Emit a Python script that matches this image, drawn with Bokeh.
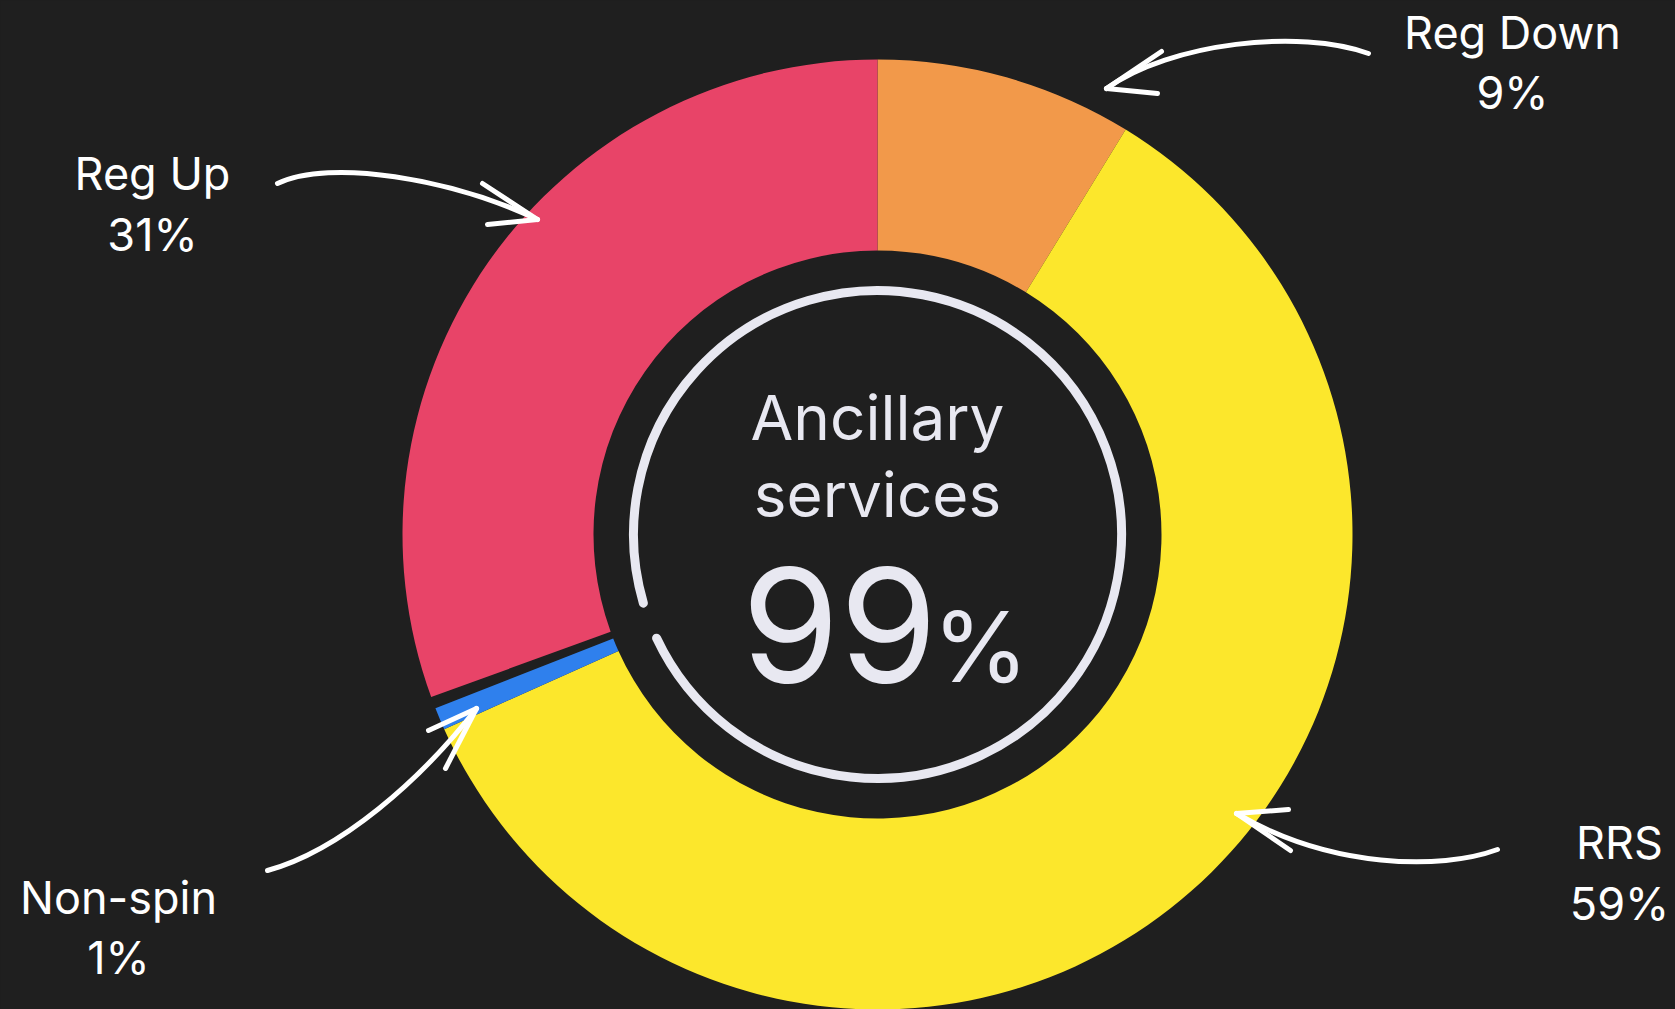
import math
from bokeh.plotting import figure
from bokeh.models import Range1d, ColumnDataSource, GlobalInlineStyleSheet
from bokeh.core.properties import value
from bokeh.embed import file_html
from bokeh.resources import INLINE

# ---------------- data ----------------
categories = ["Reg Down", "RRS", "Non-spin", "Reg Up"]
shares = [8.75, 59.53, 0.76, 30.56]          # share of the ring, %, clockwise from 12 o'clock
pct_labels = ["9%", "59%", "1%", "31%"]
colors = ["#F2994A", "#FCE72C", "#2F80ED", "#E84468"]
total_label = "99"
title_lines = ["Ancillary", "services"]

# ---------------- layout constants ----------------
W, H = 1675, 1009
BG = "#1F1F1F"
RING = "#E8E8F1"
FONT = "Inter"
K_BASE = 0.365   # baseline correction (fraction of font size)


def sx(x):  # screen px -> data x
    return x


def sy(y):  # screen px -> data y (y up)
    return H - y


CX, CY = sx(877), sy(534)
R_OUT, R_IN = 475, 284
R_RING, RING_W = 244, 9

p = figure(width=W, height=H, output_backend="svg", toolbar_location=None,
           x_range=Range1d(0, W), y_range=Range1d(0, H),
           x_axis_location=None, y_axis_location=None,
           min_border=0, outline_line_color=None,
           background_fill_color=BG, border_fill_color=BG)
p.grid.visible = False
p.stylesheets = [GlobalInlineStyleSheet(css="html, body { background-color: %s; overflow: hidden; }" % BG)]

# ---------------- donut slices ----------------
total = 100.0
starts, ends = [], []
cum = 0.0
for i, s in enumerate(shares):
    if i == len(shares) - 1:
        st = total - s          # last slice closes the ring at 12 o'clock
    else:
        st = cum
    starts.append(st)
    ends.append(st + s)
    cum = st + s


def frac_to_angle(f):
    return math.radians(90.0 - f / total * 360.0)


src = ColumnDataSource(dict(
    cat=categories,
    start=[frac_to_angle(e) for e in ends],
    end=[frac_to_angle(s) for s in starts],
    color=colors,
))
p.annular_wedge(x=CX, y=CY, inner_radius=R_IN, outer_radius=R_OUT,
                start_angle="start", end_angle="end", direction="anticlock",
                fill_color="color", line_color=None, source=src)

# ---------------- inner progress ring ----------------
gap_center = (ends[2] + starts[3]) / 2.0
gap_angle = frac_to_angle(gap_center)
half_gap = math.radians(4.4)
p.arc(x=CX, y=CY, radius=R_RING, start_angle=gap_angle + half_gap,
      end_angle=gap_angle - half_gap, direction="anticlock",
      line_color=RING, line_width=RING_W, line_cap="round")


def put_text(x, baseline, txt, fs, align="center", color="#FFFFFF"):
    p.text(x=[sx(x)], y=[sy(baseline) + K_BASE * fs], text=[txt], text_align=align,
           text_baseline="alphabetic", text_font=value(FONT),
           text_font_size="%dpx" % fs, text_color=color)


# ---------------- center text ----------------
put_text(877, 440, title_lines[0], 62, color=RING)
put_text(877, 517, title_lines[1], 62, color=RING)
put_text(937, 682, total_label, 158, align="right", color=RING)
put_text(932, 682, "%", 98, align="left", color=RING)

# ---------------- outside labels ----------------
label_pos = {  # (center x, baseline of name, baseline of pct) in screen px
    "Reg Down": (1512, 48, 108),
    "RRS": (1619, 858, 919),
    "Non-spin": (118, 913, 973),
    "Reg Up": (152, 189, 250),
}
for cat, pct in zip(categories, pct_labels):
    lx, b1, b2 = label_pos[cat]
    put_text(lx, b1, cat, 45)
    put_text(lx, b2, pct, 45)

# ---------------- hand-drawn arrows ----------------
arrows = {  # tail, ctrl1, ctrl2, tip, head1, head2 (screen px)
    "Reg Down": ((1368, 53), (1300, 28), (1170, 42), (1106, 88), (1161, 51), (1157, 93)),
    "RRS": ((1497, 849), (1440, 870), (1330, 868), (1236, 813), (1288, 809), (1290, 850)),
    "Non-spin": ((267, 870), (340, 850), (420, 780), (476, 708), (428, 730), (445, 768)),
    "Reg Up": ((277, 183), (330, 158), (450, 178), (537, 219), (482, 183), (487, 224)),
}
for cat in categories:
    t0, c1, c2, t1, h1, h2 = arrows[cat]
    p.bezier(x0=[sx(t0[0])], y0=[sy(t0[1])], x1=[sx(t1[0])], y1=[sy(t1[1])],
             cx0=[sx(c1[0])], cy0=[sy(c1[1])], cx1=[sx(c2[0])], cy1=[sy(c2[1])],
             line_color="#FFFFFF", line_width=5, line_cap="round")
    p.segment(x0=[sx(h1[0]), sx(h2[0])], y0=[sy(h1[1]), sy(h2[1])],
              x1=[sx(t1[0]), sx(t1[0])], y1=[sy(t1[1]), sy(t1[1])],
              line_color="#FFFFFF", line_width=5, line_cap="round")

open("out.html", "w").write(file_html(p, INLINE))
